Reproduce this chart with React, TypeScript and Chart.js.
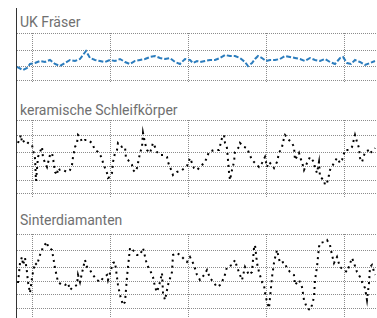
import React, { useEffect, useRef } from "react";
import { Chart, registerables } from "chart.js";

Chart.register(...registerables);

// Shared x grid (sample index), grid every 78 samples
const xGridTicks = [0, 78, 156, 234, 312];
const xMin = -15;
const xMax = 345;

// Panel 1: UK Fräser
const title1 = "UK Fräser";
const ukX = [-15, -9, -5, -2, 3, 8, 13, 18, 23, 28, 33, 38, 43, 48, 54, 58, 63, 68, 73, 78, 83, 88, 93, 98, 103, 108, 113, 118, 123, 128, 133, 138, 143, 148, 153, 158, 161, 165, 168, 173, 178, 183, 188, 193, 198, 203, 208, 213, 216, 220, 223, 226, 230, 234, 238, 243, 248, 253, 258, 263, 268, 273, 278, 283, 288, 293, 298, 303, 308, 311, 315, 319, 323, 328, 333, 338, 343];
const ukY = [13, 10, 12, 16, 17, 19, 18, 20, 16, 14, 17, 20, 19, 21, 29, 22, 20, 19, 18, 20, 19, 21, 18, 16, 19, 20, 21, 23, 24, 22, 21, 22, 18, 16, 21, 20, 17, 19, 18, 19, 20, 20, 22, 25, 24, 24, 22, 18, 14, 17, 21, 24, 22, 19, 20, 20, 21, 24, 23, 22, 21, 19, 22, 20, 19, 21, 18, 16, 22, 23, 17, 16, 20, 18, 15, 17, 19];
const ukGrid = [0, 14, 30, 47];

// Panel 2: keramische Schleifkörper
const title2 = "keramische Schleifkörper";
const kerX = [-14, -11, -10, -7, -4, 0, 1, 3, 4, 6, 10, 11, 15, 16, 18, 20, 21, 23, 25, 26, 28, 31, 35, 38, 40, 41, 43, 45, 46, 48, 50, 53, 56, 60, 63, 66, 68, 70, 71, 73, 75, 76, 78, 80, 81, 83, 85, 86, 90, 93, 94, 96, 100, 101, 103, 105, 106, 108, 110, 111, 113, 115, 118, 121, 123, 125, 128, 131, 135, 136, 140, 141, 145, 150, 155, 158, 162, 165, 168, 173, 177, 182, 187, 190, 192, 193, 195, 197, 198, 200, 202, 203, 207, 208, 212, 215, 217, 220, 223, 227, 230, 233, 235, 237, 240, 242, 245, 247, 250, 252, 253, 257, 260, 262, 263, 267, 268, 270, 272, 275, 278, 282, 283, 285, 287, 288, 292, 293, 295, 297, 298, 302, 305, 308, 310, 313, 317, 320, 323, 325, 327, 328, 330, 333, 337, 338, 342, 343];
const kerY = [50, 58, 50, 53, 50, 48, 43, 35, 12, 36, 46, 35, 26, 30, 38, 40, 35, 21, 18, 25, 23, 23, 21, 23, 28, 36, 46, 50, 58, 56, 51, 53, 53, 50, 43, 41, 38, 35, 30, 25, 20, 15, 16, 20, 31, 40, 43, 50, 46, 46, 35, 33, 28, 23, 21, 25, 30, 40, 46, 60, 50, 43, 40, 50, 46, 41, 38, 38, 36, 31, 21, 18, 21, 23, 27, 35, 25, 23, 26, 31, 41, 43, 43, 55, 58, 50, 45, 21, 13, 23, 31, 41, 46, 50, 46, 45, 40, 33, 30, 26, 30, 36, 26, 31, 28, 25, 31, 40, 46, 55, 58, 53, 50, 46, 33, 40, 36, 31, 23, 30, 36, 31, 25, 20, 31, 16, 13, 8, 10, 18, 23, 30, 35, 30, 33, 43, 43, 46, 58, 51, 45, 35, 31, 41, 43, 40, 43, 45];
const kerGrid = [0, 13, 27, 41, 57, 73];

// Panel 3: Sinterdiamanten
const title3 = "Sinterdiamanten";
const sinX = [-14, -12, -10, -9, -7, -5, -4, -2, 0, 1, 3, 5, 8, 10, 11, 15, 16, 20, 23, 26, 30, 33, 36, 38, 41, 45, 46, 48, 50, 53, 55, 58, 61, 65, 68, 71, 75, 76, 78, 81, 83, 86, 88, 91, 93, 95, 96, 98, 100, 101, 105, 108, 111, 115, 118, 121, 123, 125, 128, 130, 131, 133, 136, 140, 141, 145, 148, 151, 155, 158, 162, 165, 168, 172, 175, 178, 182, 185, 188, 192, 195, 200, 203, 205, 208, 210, 213, 217, 220, 222, 223, 225, 227, 230, 232, 233, 235, 237, 238, 240, 242, 243, 245, 248, 252, 255, 258, 262, 263, 267, 270, 272, 275, 278, 280, 282, 283, 285, 287, 288, 292, 295, 298, 300, 302, 305, 308, 312, 315, 320, 322, 325, 328, 330, 333, 335, 337, 338, 340, 343];
const sinY = [25, 45, 51, 43, 50, 36, 26, 15, 30, 36, 45, 43, 53, 58, 61, 66, 61, 58, 40, 26, 23, 23, 25, 18, 21, 23, 33, 26, 35, 48, 41, 38, 33, 28, 26, 30, 33, 28, 35, 45, 46, 23, 13, 3, 6, 31, 41, 60, 60, 58, 53, 53, 60, 43, 38, 31, 21, 16, 26, 35, 15, 8, 23, 36, 53, 55, 53, 50, 46, 51, 43, 33, 28, 33, 38, 30, 25, 21, 23, 30, 41, 43, 48, 41, 33, 28, 41, 33, 36, 60, 63, 45, 36, 26, 23, 15, 6, 0, 10, 31, 45, 50, 58, 45, 46, 40, 36, 33, 23, 28, 21, 8, 0, -2, 3, 11, 28, 41, 61, 65, 66, 68, 63, 53, 45, 51, 41, 38, 36, 50, 45, 36, 31, 26, 20, 8, 25, 41, 43, 33];
const sinGrid = [0, 14, 27, 41, 58, 74];

type PanelProps = {
  xs: number[];
  ys: number[];
  grid: number[];
  yMin: number;
  yMax: number;
  color: string;
  dash: number[];
  width: number;
  top: number;
  height: number;
  padTop: number;
  padBottom: number;
};

function Panel(p: PanelProps) {
  const ref = useRef<HTMLCanvasElement | null>(null);
  useEffect(() => {
    if (!ref.current) return;
    const pts = p.xs.map((x, i) => ({ x, y: p.ys[i] }));
    const chart = new Chart(ref.current, {
      type: "line",
      data: {
        datasets: [
          {
            data: pts,
            borderColor: p.color,
            borderWidth: p.width,
            borderDash: p.dash,
            pointRadius: 0,
            tension: 0,
            fill: false,
          },
        ],
      },
      options: {
        animation: false,
        responsive: false,
        events: [],
        layout: { padding: { top: p.padTop, bottom: p.padBottom, left: 0, right: 0 } },
        plugins: { legend: { display: false }, tooltip: { enabled: false }, title: { display: false } },
        scales: {
          x: {
            type: "linear",
            min: xMin,
            max: xMax,
            afterBuildTicks: (s: any) => {
              s.ticks = xGridTicks.map((v) => ({ value: v }));
            },
            ticks: { display: false },
            grid: { color: "#8c8c8c", lineWidth: 1, drawTicks: false },
            border: { display: false, dash: [1, 1] },
          },
          y: {
            type: "linear",
            min: p.yMin,
            max: p.yMax,
            afterBuildTicks: (s: any) => {
              s.ticks = p.grid.map((v) => ({ value: v }));
            },
            ticks: { display: false },
            grid: { color: "#8c8c8c", lineWidth: 1, drawTicks: false },
            border: { display: false, dash: [1, 1] },
          },
        },
      },
    });
    return () => chart.destroy();
  }, []);
  return (
    <canvas
      ref={ref}
      width={360}
      height={p.height}
      style={{ position: "absolute", left: 17, top: p.top, width: 360, height: p.height }}
    />
  );
}

const titleStyle: React.CSSProperties = {
  position: "absolute",
  left: 20,
  fontFamily: "Roboto, 'Noto Sans', sans-serif",
  fontSize: 14,
  lineHeight: "14px",
  color: "#707070",
  whiteSpace: "nowrap",
};

export default function App() {
  return (
    <div style={{ position: "absolute", left: 0, top: 0, width: 377, height: 318, background: "#fff", overflow: "hidden" }}>
      <div style={{ position: "absolute", left: 16, top: 8, width: 1, height: 310, background: "#333" }} />
      <div style={{ ...titleStyle, top: 15 }}>{title1}</div>
      <div style={{ ...titleStyle, top: 103 }}>{title2}</div>
      <div style={{ ...titleStyle, top: 213 }}>{title3}</div>
      <Panel xs={ukX} ys={ukY} grid={ukGrid} yMin={-2} yMax={47} color="#2b7cbd" dash={[5, 2]} width={2} top={32} height={51} padTop={1} padBottom={1} />
      <Panel xs={kerX} ys={kerY} grid={kerGrid} yMin={-4} yMax={73} color="#000" dash={[2, 4]} width={2} top={119} height={79} padTop={1} padBottom={1} />
      <Panel xs={sinX} ys={sinY} grid={sinGrid} yMin={-10} yMax={74} color="#000" dash={[2, 4]} width={2} top={233} height={85} padTop={1} padBottom={0} />
    </div>
  );
}
